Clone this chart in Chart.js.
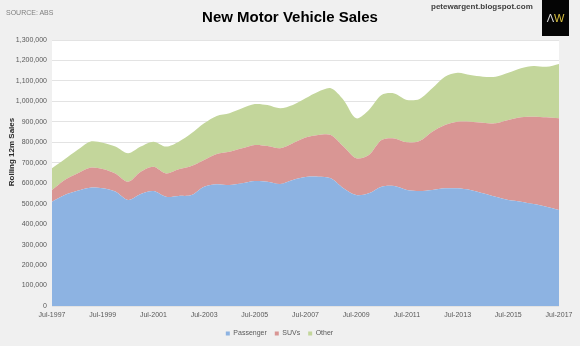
<!DOCTYPE html>
<html>
<head>
<meta charset="utf-8">
<script src="https://cdn.jsdelivr.net/npm/chart.js@4"></script>
<style>
  html, body { margin: 0; padding: 0; background: #f0f0f0; }
  #wrap { position: relative; width: 580px; height: 346px; font-family: "Liberation Sans", Arial, sans-serif; }
  #chart { position: absolute; left: 0; top: 0; }
  .src { position: absolute; left: 6px; top: 9px; font-size: 7px; color: #7f7f7f; }
  .title { position: absolute; left: 0; width: 580px; top: 8px; text-align: center; font-size: 15px; font-weight: bold; color: #000; }
  .site { position: absolute; left: 431px; top: 2px; font-size: 8px; font-weight: bold; color: #404040; }
  .logo { position: absolute; left: 542px; top: 0; width: 27px; height: 36px; background: #050505; font-size: 11px; line-height: 36px; text-align: center; }
  .logo .a { color: #d9d9d9; }
  .logo .w { color: #d8c040; }
</style>
</head>
<body>
<div id="wrap">
  <canvas id="chart" width="580" height="346"></canvas>
  <div class="src">SOURCE: ABS</div>
  <div class="title">New Motor Vehicle Sales</div>
  <div class="site">petewargent.blogspot.com</div>
  <div class="logo"><span class="a">Λ</span><span class="w">W</span></div>
</div>
<script>
// half-yearly points, Jul-1997 .. Jul-2017
var labels = [
  'Jul-1997','Jan-1998','Jul-1998','Jan-1999','Jul-1999','Jan-2000','Jul-2000','Jan-2001','Jul-2001','Jan-2002',
  'Jul-2002','Jan-2003','Jul-2003','Jan-2004','Jul-2004','Jan-2005','Jul-2005','Jan-2006','Jul-2006','Jan-2007',
  'Jul-2007','Jan-2008','Jul-2008','Jan-2009','Jul-2009','Jan-2010','Jul-2010','Jan-2011','Jul-2011','Jan-2012',
  'Jul-2012','Jan-2013','Jul-2013','Jan-2014','Jul-2014','Jan-2015','Jul-2015','Jan-2016','Jul-2016','Jan-2017',
  'Jul-2017'
]

var passenger = [
  510000, 542000, 563000, 578000, 575000, 559000, 518000, 547000, 562000, 534000,
  538000, 542000, 583000, 595000, 591000, 600000, 611000, 607000, 596000, 616000,
  630000, 632000, 624000, 575000, 542000, 551000, 583000, 586000, 567000, 562000,
  567000, 575000, 575000, 567000, 551000, 534000, 518000, 510000, 498000, 485000,
  469000
]

var suvs = [
  57000, 74000, 85000, 98000, 95000, 89000, 89000, 109000, 119000, 114000,
  130000, 142000, 131000, 148000, 163000, 171000, 176000, 175000, 175000, 179000,
  193000, 204000, 212000, 204000, 180000, 187000, 228000, 233000, 233000, 245000,
  285000, 310000, 326000, 334000, 345000, 359000, 391000, 412000, 427000, 437000,
  448000
]

var other = [
  106000, 101000, 114000, 127000, 128000, 131000, 139000, 123000, 122000, 131000,
  135000, 160000, 179000, 186000, 188000, 195000, 200000, 200000, 195000, 187000,
  192000, 211000, 228000, 228000, 195000, 220000, 220000, 220000, 207000, 205000,
  212000, 236000, 239000, 228000, 225000, 228000, 231000, 240000, 248000, 247000,
  266000
]

var blue = '#8db3e2'
var red = '#d99694'
var green = '#c3d69b'
var tickFont = { family: 'Liberation Sans', size: 7 }

// white plot background + y axis title placed like the original
var extras = {
  id: 'extras',
  beforeDraw: function (chart) {
    var a = chart.chartArea
    var ctx = chart.ctx
    ctx.save()
    ctx.fillStyle = '#ffffff'
    ctx.fillRect(a.left, a.top, a.right - a.left, a.bottom - a.top)
    ctx.restore()
  },
  afterDraw: function (chart) {
    var ctx = chart.ctx
    ctx.save()
    ctx.translate(12, 152)
    ctx.rotate(-Math.PI / 2)
    ctx.font = 'bold 8px "Liberation Sans"'
    ctx.fillStyle = '#262626'
    ctx.textAlign = 'center'
    ctx.textBaseline = 'middle'
    ctx.fillText('Rolling 12m Sales', 0, 0)
    ctx.restore()
  }
}

function area(label, data, color, fill) {
  return {
    label: label,
    data: data,
    backgroundColor: color,
    borderColor: color,
    borderWidth: 0,
    pointRadius: 0,
    tension: 0.3,
    fill: fill
  }
}

var chart = new Chart(document.getElementById('chart'), {
  type: 'line',
  data: {
    labels: labels,
    datasets: [
      area('Passenger', passenger, blue, 'origin'),
      area('SUVs', suvs, red, '-1'),
      area('Other', other, green, '-1')
    ]
  },
  plugins: [extras],
  options: {
    responsive: false,
    animation: false,
    layout: { padding: { top: 40, right: 21, left: 0, bottom: 0 } },
    plugins: {
      legend: {
        position: 'bottom',
        maxHeight: 24,
        labels: {
          font: { family: 'Liberation Sans', size: 7 },
          color: '#595959',
          boxWidth: 4,
          boxHeight: 4,
          padding: 8
        }
      },
      tooltip: { enabled: false }
    },
    scales: {
      x: {
        offset: false,
        grid: { display: false, drawTicks: false },
        border: { display: false },
        ticks: {
          font: tickFont,
          color: '#595959',
          autoSkip: false,
          maxRotation: 0,
          padding: 5,
          callback: function (v, i) { return i % 4 === 0 ? labels[i] : '' }
        },
        afterFit: function (s) { s.height = 16 }
      },
      y: {
        stacked: true,
        min: 0,
        max: 1300000,
        grid: { color: '#e3e3e3', drawTicks: false },
        border: { display: false },
        ticks: {
          font: tickFont,
          color: '#595959',
          stepSize: 100000,
          padding: 5,
          callback: function (v) { return v.toLocaleString('en-US') }
        },
        afterFit: function (s) { s.width = 52 }
      }
    }
  }
})
</script>
</body>
</html>
